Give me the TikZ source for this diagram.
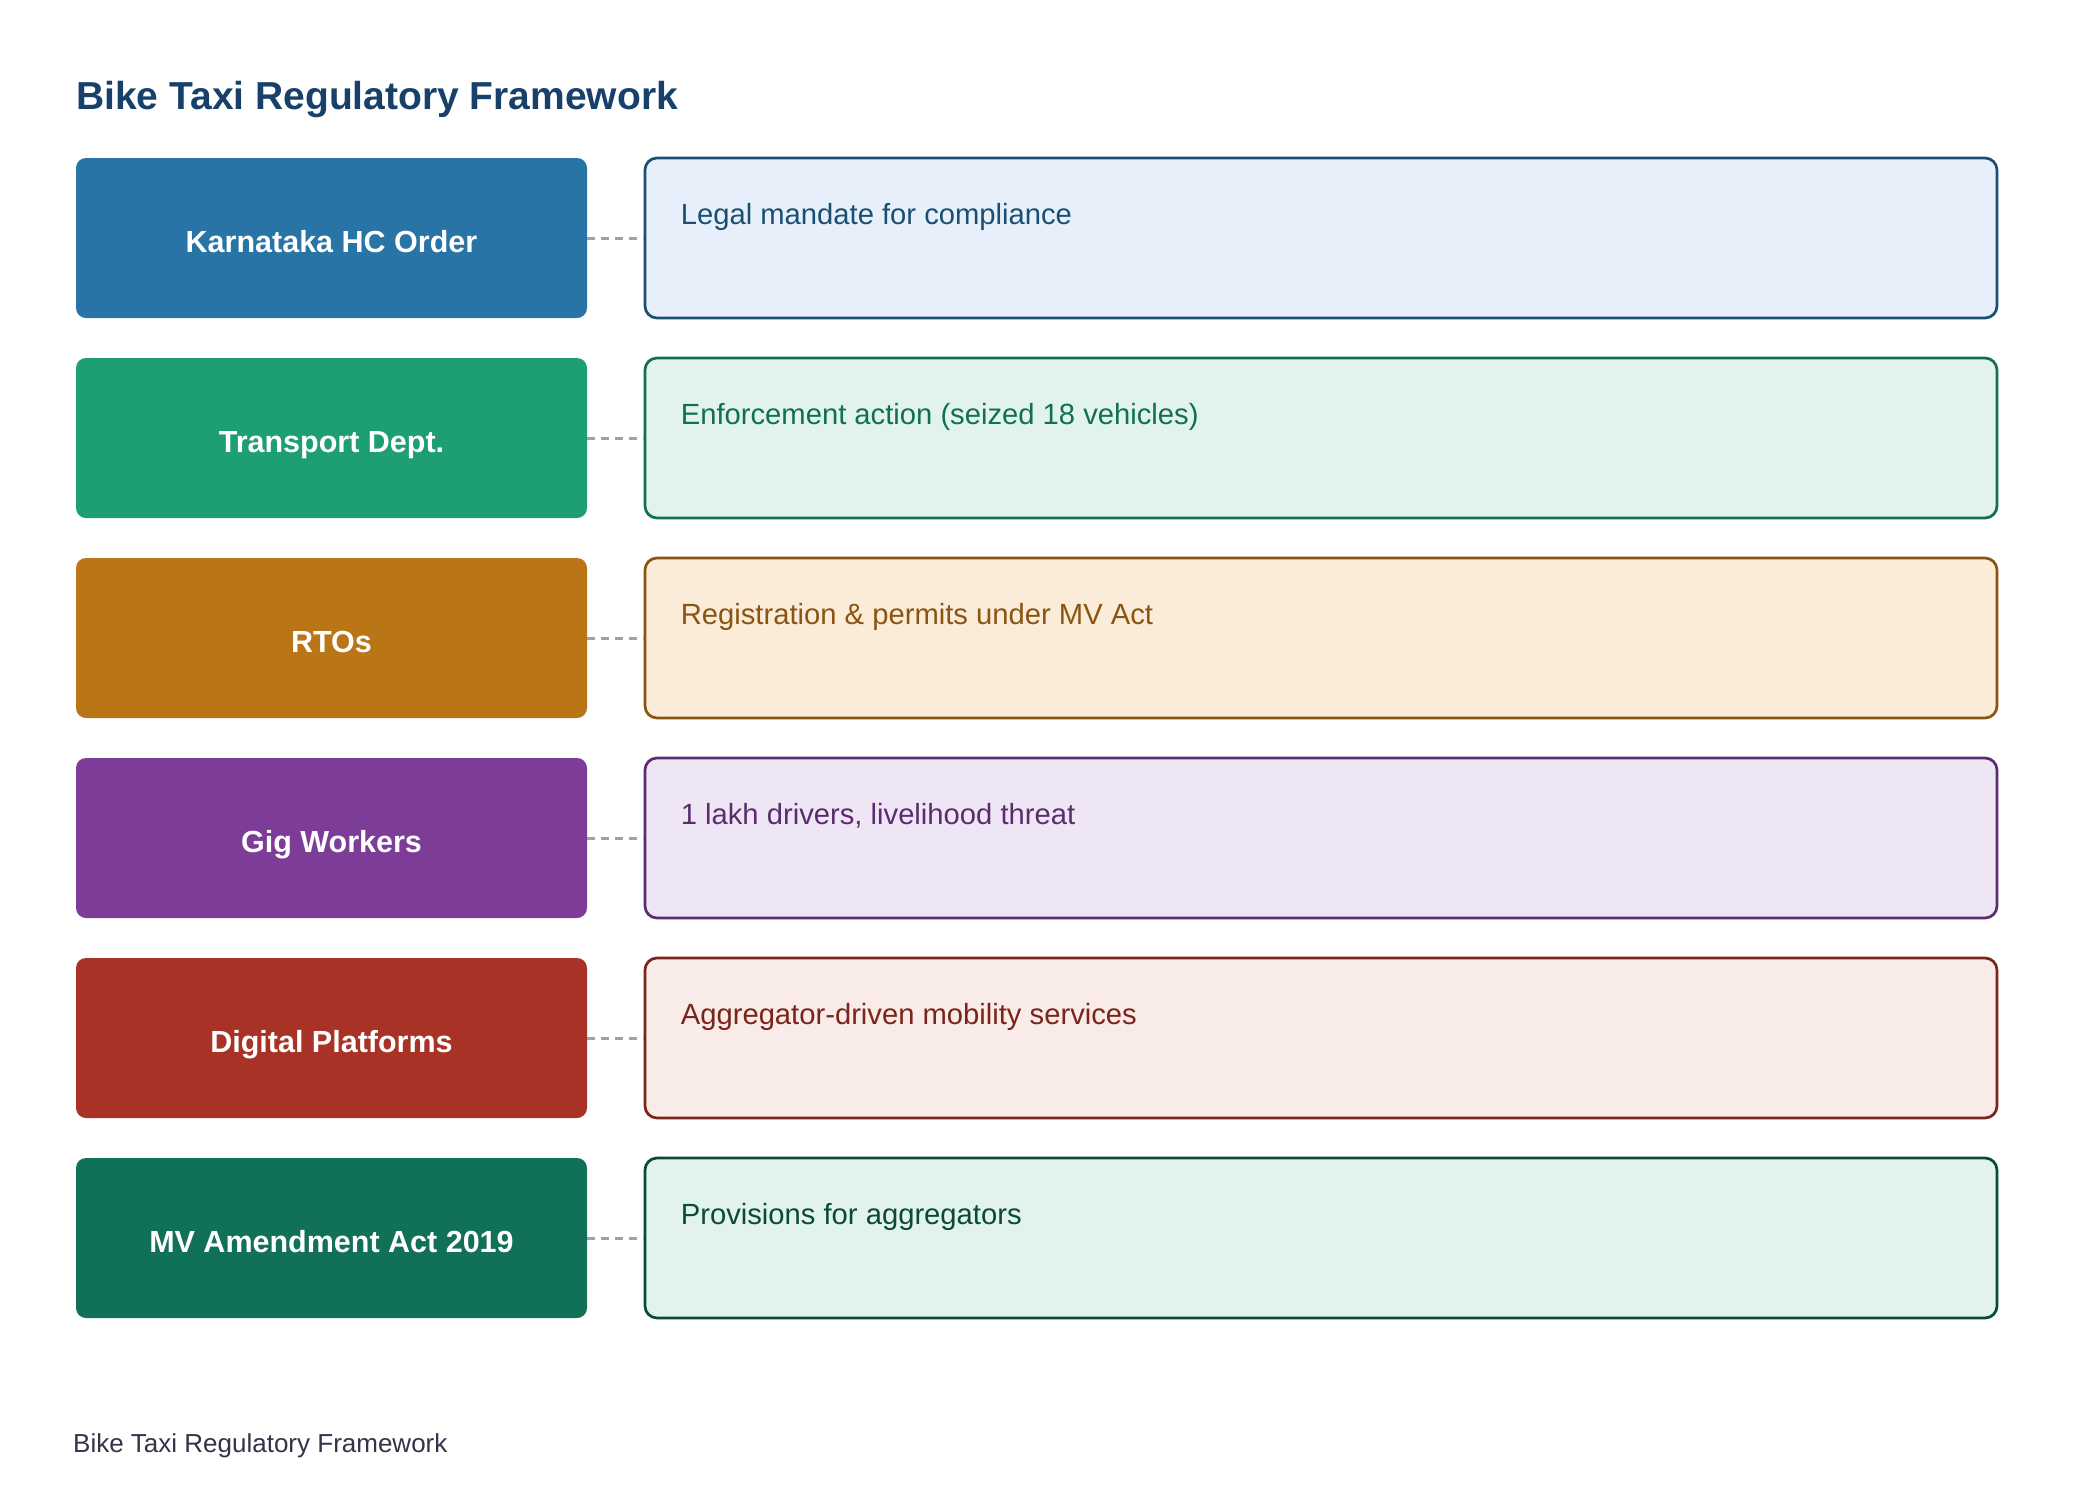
\documentclass[tikz,border=0pt]{standalone}
\usepackage{fontspec}
\setmainfont{Liberation Sans}
\definecolor{titlec}{HTML}{17406A}
\definecolor{footc}{HTML}{33334A}
\definecolor{dashc}{HTML}{9AA3B0}
\definecolor{aL}{HTML}{2874A6}\definecolor{aF}{HTML}{E7F0FA}\definecolor{aD}{HTML}{1B4F72}
\definecolor{bL}{HTML}{1E9E74}\definecolor{bF}{HTML}{E1F3EC}\definecolor{bD}{HTML}{117053}
\definecolor{cL}{HTML}{BA7517}\definecolor{cF}{HTML}{FAECD9}\definecolor{cD}{HTML}{8A5412}
\definecolor{dL}{HTML}{7D3C98}\definecolor{dF}{HTML}{EFE6F5}\definecolor{dD}{HTML}{5B2C6F}
\definecolor{eL}{HTML}{A93226}\definecolor{eF}{HTML}{F9EBE7}\definecolor{eD}{HTML}{7B241C}
\definecolor{fL}{HTML}{117058}\definecolor{fF}{HTML}{E1F3EC}\definecolor{fD}{HTML}{0B4A3A}
\tikzset{
  leftbox/.style={rectangle, rounded corners=10pt, minimum width=511pt, minimum height=160pt,
    inner sep=0pt, text height=28pt, text depth=0pt, text=white,
    font=\fontsize{30.5}{36}\selectfont\bfseries},
  rightbox/.style={rectangle, rounded corners=12pt, minimum width=1352pt, minimum height=160pt,
    inner sep=0pt, line width=2.7pt},
  desc/.style={anchor=base west, inner sep=0pt, font=\fontsize{29.2}{35}\selectfont},
  linkline/.style={draw=dashc, line width=3pt, dash pattern=on 8pt off 6pt},
}
\begin{document}
\begin{tikzpicture}[x=1pt,y=-1pt]
\useasboundingbox[fill=white] (0,0) rectangle (2080,1508);
\node[anchor=base west, inner sep=0pt, text=titlec, font=\fontsize{39}{46}\selectfont\bfseries]
  (title) at (76,109) {Bike Taxi Regulatory Framework};
\foreach \i/\c/\lab/\txt in {
  0/a/Karnataka HC Order/Legal mandate for compliance,
  1/b/Transport Dept./Enforcement action (seized 18 vehicles),
  2/c/RTOs/Registration \& permits under MV Act,
  3/d/Gig Workers/{1 lakh drivers, livelihood threat},
  4/e/Digital Platforms/Aggregator-driven mobility services,
  5/f/MV Amendment Act 2019/Provisions for aggregators}{
  \pgfmathsetmacro{\cy}{238+200*\i}
  \node[leftbox, fill=\c L] (L\i) at (331.5,\cy) {\lab};
  \node[rightbox, fill=\c F, draw=\c D] (R\i) at (1321,\cy) {};
  \node[desc, text=\c D] (T\i) at ([xshift=37pt,yshift=-68pt]R\i.north west) {\txt};
  \draw[linkline] (L\i.east) -- (R\i.west);
}
\node[anchor=base west, inner sep=0pt, text=footc, font=\fontsize{26}{31}\selectfont]
  (foot) at (73,1452) {Bike Taxi Regulatory Framework};
\end{tikzpicture}
\end{document}
